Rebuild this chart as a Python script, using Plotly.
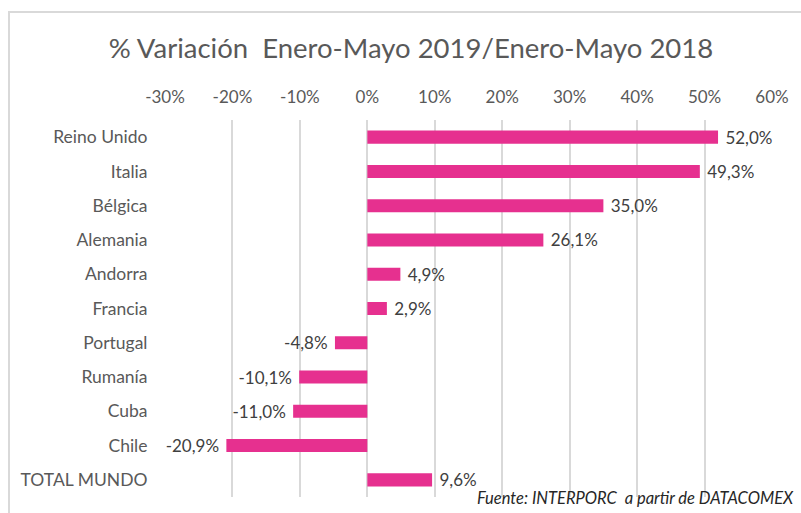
import plotly.graph_objects as go

# Variación porcentual Enero-Mayo 2019 vs Enero-Mayo 2018
paises = ["Reino Unido", "Italia", "Bélgica", "Alemania", "Andorra", "Francia",
          "Portugal", "Rumanía", "Cuba", "Chile", "TOTAL MUNDO"]
variacion = [52.0, 49.3, 35.0, 26.1, 4.9, 2.9, -4.8, -10.1, -11.0, -20.9, 9.6]

tick_vals = [-30, -20, -10, 0, 10, 20, 30, 40, 50, 60]
tick_text = ["-30%", "-20%", "-10%", "0%", "10%", "20%", "30%", "40%", "50%", "60%"]

def etiqueta(v):
    s = f"{v:.1f}".replace(".", ",") + "%"
    return " " + s if v >= 0 else s + " "

etiquetas = [etiqueta(v) for v in variacion]

W, H = 801, 513
ML, MR, MT, MB = 165, 29, 120, 16
PW, PH = W - ML - MR, H - MT - MB
FONT = "Lato, Carlito, sans-serif"

def px_x(p):
    return (p - ML) / PW

def px_y(p):
    return 1 - (p - MT) / PH

fig = go.Figure(go.Bar(
    x=variacion, y=paises, orientation="h",
    marker=dict(color="#E6308F", line=dict(width=0)),
    text=etiquetas, textposition="outside", cliponaxis=False,
    constraintext="none",
    textfont=dict(family=FONT, size=17, color="#404040"),
    width=0.38,
))

fig.update_layout(
    width=W, height=H,
    margin=dict(l=ML, r=MR, t=MT, b=MB),
    paper_bgcolor="white", plot_bgcolor="white",
    showlegend=False,
    font=dict(family=FONT, color="#595959"),
    title=dict(text="% Variación  Enero-Mayo 2019/Enero-Mayo 2018",
               x=411 / W, xanchor="center", y=1 - 48 / H, yanchor="middle",
               font=dict(size=27.5, color="#595959")),
    xaxis=dict(side="top", range=[-30, 60], tickvals=tick_vals, ticktext=tick_text,
               showgrid=True, gridcolor="#D9D9D9", gridwidth=1.5,
               zeroline=True, zerolinecolor="#D9D9D9", zerolinewidth=1.5,
               ticks="outside", ticklen=9, tickcolor="rgba(0,0,0,0)",
               tickfont=dict(size=17, color="#595959"), showline=False),
    yaxis=dict(autorange="reversed", showgrid=False, zeroline=False,
               ticks="outside", ticklen=13, tickcolor="rgba(0,0,0,0)",
               tickfont=dict(size=17.5, color="#595959"), showline=False),
    shapes=[dict(type="rect", xref="paper", yref="paper",
                 x0=px_x(9), x1=px_x(810), y0=px_y(520), y1=px_y(12),
                 line=dict(color="#D9D9D9", width=2), layer="below")],
    annotations=[dict(text="<i>Fuente: INTERPORC  a partir de DATACOMEX</i>",
                      xref="paper", yref="paper", x=px_x(796), y=px_y(498),
                      xanchor="right", yanchor="middle", showarrow=False,
                      font=dict(size=16.5, color="#262626"))],
)

fig.write_html("out.html")
